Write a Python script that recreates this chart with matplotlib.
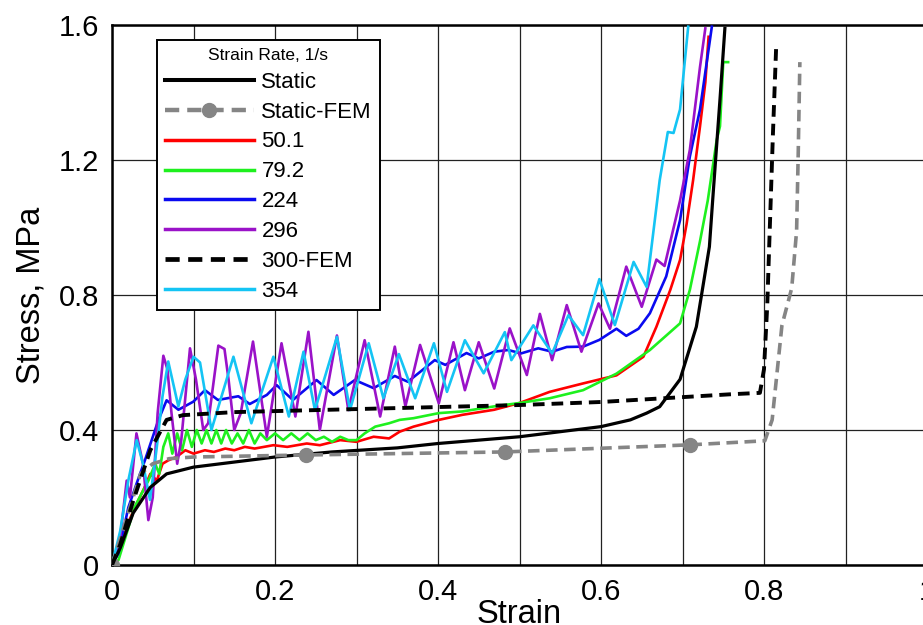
import matplotlib

matplotlib.use("Agg")
import matplotlib.pyplot as plt
from matplotlib.ticker import MultipleLocator

plt.rcParams["font.family"] = ["Liberation Sans", "DejaVu Sans"]

# ── data (strain, stress in MPa) ─────────────────────────────────────────────
static_strain = [0, 0.01, 0.026, 0.047, 0.067, 0.1, 0.15, 0.2, 0.27, 0.35, 0.4,
                 0.5, 0.6, 0.636, 0.656, 0.672, 0.697, 0.717, 0.733, 0.737,
                 0.746, 0.752]
static_stress = [0, 0.05, 0.154, 0.23, 0.27, 0.29, 0.305, 0.32, 0.335, 0.347,
                 0.36, 0.38, 0.41, 0.43, 0.45, 0.469, 0.55, 0.706, 0.943, 1.08,
                 1.38, 1.59]

static_fem_strain = [0, 0.018, 0.035, 0.05, 0.07, 0.1, 0.238, 0.482, 0.709,
                     0.801, 0.81, 0.822, 0.834, 0.84, 0.842, 0.844]
static_fem_stress = [0, 0.14, 0.27, 0.30, 0.315, 0.32, 0.326, 0.335, 0.356,
                     0.368, 0.43, 0.71, 0.82, 0.99, 1.22, 1.49]
static_fem_marks = [0, 6, 7, 8]

r50_strain = [0, 0.010, 0.028, 0.040, 0.047, 0.055, 0.062, 0.069, 0.079, 0.090,
              0.100, 0.114, 0.125, 0.139, 0.150, 0.163, 0.175, 0.198, 0.215,
              0.239, 0.255, 0.280, 0.300, 0.321, 0.340, 0.353, 0.370, 0.401,
              0.430, 0.469, 0.500, 0.537, 0.578, 0.619, 0.652, 0.668, 0.685,
              0.697, 0.705, 0.713, 0.7215, 0.728, 0.732]
r50_stress = [0, 0.07, 0.17, 0.23, 0.27, 0.25, 0.30, 0.31, 0.32, 0.34,
              0.33, 0.34, 0.335, 0.345, 0.34, 0.35, 0.345, 0.355, 0.35,
              0.36, 0.355, 0.37, 0.365, 0.38, 0.375, 0.395, 0.41, 0.43,
              0.445, 0.46, 0.48, 0.513, 0.538, 0.562, 0.617, 0.706, 0.815,
              0.904, 1.01, 1.14, 1.30, 1.43, 1.565]

r79_strain = [0, 0.008, 0.028, 0.045, 0.053, 0.058, 0.063, 0.069, 0.074, 0.080,
              0.086, 0.092, 0.098, 0.104, 0.110, 0.116, 0.122, 0.128, 0.134,
              0.140, 0.147, 0.154, 0.161, 0.168, 0.175, 0.182, 0.190, 0.200,
              0.210, 0.220, 0.230, 0.240, 0.250, 0.260, 0.270, 0.280, 0.290,
              0.300, 0.310, 0.323, 0.340, 0.353, 0.370, 0.401, 0.430, 0.469,
              0.500, 0.537, 0.578, 0.619, 0.660, 0.697, 0.709, 0.7215, 0.731,
              0.742, 0.746, 0.750, 0.756]
r79_stress = [0, 0.015, 0.173, 0.252, 0.30, 0.27, 0.35, 0.39, 0.33, 0.39,
              0.34, 0.40, 0.35, 0.40, 0.36, 0.40, 0.36, 0.40, 0.36,
              0.40, 0.36, 0.39, 0.36, 0.40, 0.36, 0.39, 0.37, 0.39,
              0.37, 0.39, 0.37, 0.39, 0.37, 0.38, 0.365, 0.38, 0.37,
              0.37, 0.39, 0.41, 0.42, 0.43, 0.435, 0.45, 0.455, 0.47,
              0.48, 0.494, 0.518, 0.567, 0.637, 0.716, 0.815, 0.96, 1.08,
              1.26, 1.30, 1.49, 1.49]

r224_strain = [0, 0.008, 0.020, 0.030, 0.0405, 0.057, 0.067, 0.0815, 0.0998,
               0.114, 0.130, 0.155, 0.169, 0.190, 0.202, 0.222, 0.251, 0.272,
               0.298, 0.321, 0.347, 0.363, 0.396, 0.409, 0.435, 0.450, 0.469,
               0.486, 0.502, 0.523, 0.540, 0.558, 0.578, 0.598, 0.619, 0.631,
               0.646, 0.660, 0.680, 0.697, 0.709, 0.7215, 0.736]
r224_stress = [0, 0.035, 0.17, 0.24, 0.311, 0.43, 0.488, 0.46, 0.484,
               0.518, 0.489, 0.50, 0.477, 0.504, 0.533, 0.489, 0.548, 0.504,
               0.548, 0.524, 0.56, 0.543, 0.607, 0.593, 0.628, 0.612, 0.632,
               0.637, 0.627, 0.642, 0.632, 0.646, 0.647, 0.667, 0.70, 0.679,
               0.70, 0.746, 0.855, 1.022, 1.21, 1.35, 1.595]

r296_strain = [0, 0.010, 0.018, 0.022, 0.030, 0.038, 0.0446, 0.050, 0.056,
               0.063, 0.068, 0.073, 0.080, 0.085, 0.0957, 0.103, 0.112, 0.118,
               0.1305, 0.138, 0.143, 0.150, 0.158, 0.173, 0.190, 0.208, 0.225,
               0.241, 0.255, 0.276, 0.290, 0.310, 0.329, 0.347, 0.360, 0.378,
               0.401, 0.419, 0.433, 0.450, 0.469, 0.488, 0.509, 0.525, 0.540,
               0.558, 0.576, 0.597, 0.611, 0.631, 0.650, 0.668, 0.678, 0.697,
               0.709, 0.7215, 0.728]
r296_stress = [0, 0.08, 0.25, 0.20, 0.39, 0.30, 0.133, 0.20, 0.45,
               0.62, 0.58, 0.45, 0.30, 0.37, 0.642, 0.55, 0.40, 0.42,
               0.65, 0.64, 0.55, 0.40, 0.45, 0.662, 0.38, 0.657, 0.44,
               0.691, 0.40, 0.68, 0.459, 0.666, 0.44, 0.647, 0.47, 0.652,
               0.479, 0.66, 0.518, 0.66, 0.523, 0.701, 0.563, 0.744, 0.607,
               0.77, 0.632, 0.775, 0.70, 0.884, 0.765, 0.905, 0.886, 1.08,
               1.23, 1.476, 1.59]

fem300_strain = [0, 0.01, 0.026, 0.047, 0.067, 0.087, 0.15, 0.35, 0.5, 0.6,
                 0.76, 0.795, 0.80, 0.804, 0.807, 0.811, 0.815]
fem300_stress = [0, 0.06, 0.19, 0.34, 0.43, 0.444, 0.453, 0.465, 0.474, 0.483,
                 0.506, 0.51, 0.58, 0.77, 0.99, 1.28, 1.54]

r354_strain = [0, 0.010, 0.020, 0.0303, 0.038, 0.0466, 0.055, 0.062, 0.069,
               0.0814, 0.090, 0.100, 0.108, 0.122, 0.149, 0.171, 0.198, 0.217,
               0.235, 0.249, 0.276, 0.292, 0.315, 0.333, 0.352, 0.372, 0.395,
               0.411, 0.433, 0.456, 0.482, 0.490, 0.517, 0.540, 0.560, 0.578,
               0.598, 0.617, 0.640, 0.656, 0.672, 0.682, 0.689, 0.697, 0.707]
r354_stress = [0, 0.10, 0.25, 0.37, 0.30, 0.193, 0.35, 0.50, 0.603,
               0.47, 0.55, 0.617, 0.60, 0.40, 0.617, 0.42, 0.617, 0.44,
               0.632, 0.459, 0.676, 0.459, 0.657, 0.494, 0.625, 0.494, 0.657,
               0.513, 0.666, 0.568, 0.69, 0.607, 0.71, 0.627, 0.74, 0.681,
               0.847, 0.711, 0.898, 0.824, 1.14, 1.283, 1.28, 1.35, 1.595]

x_ticks = [0, 0.2, 0.4, 0.6, 0.8, 1.0]
x_labels = ["0", "0.2", "0.4", "0.6", "0.8", "1"]
y_ticks = [0, 0.4, 0.8, 1.2, 1.6]
y_labels = ["0", "0.4", "0.8", "1.2", "1.6"]

# ── figure ───────────────────────────────────────────────────────────────────
W, H = 923, 625
fig = plt.figure(figsize=(W / 100, H / 100), dpi=100)
ax = fig.add_axes([112 / W, 60 / H, 815 / W, 540 / H])

ax.plot(static_strain, static_stress, color="black", lw=2.3, label="Static", zorder=5)
ax.plot(static_fem_strain, static_fem_stress, color="#858585", lw=2.6,
        dashes=(3.2, 1.8), marker="o", markersize=10, markevery=static_fem_marks,
        label="Static-FEM", zorder=6)
ax.plot(r50_strain, r50_stress, color="#ff0000", lw=1.9, label="50.1", zorder=3)
ax.plot(r79_strain, r79_stress, color="#1ef01e", lw=1.9, label="79.2", zorder=3)
ax.plot(r224_strain, r224_stress, color="#0a0af0", lw=1.9, label="224", zorder=3)
ax.plot(r296_strain, r296_stress, color="#9a12c8", lw=1.9, label="296", zorder=3)
ax.plot(fem300_strain, fem300_stress, color="black", lw=2.8, dashes=(3.0, 1.8),
        label="300-FEM", zorder=6)
ax.plot(r354_strain, r354_stress, color="#14c4f4", lw=1.9, label="354", zorder=4)

ax.set_xlim(0, 1)
ax.set_ylim(0, 1.6)
ax.set_xticks(x_ticks, x_labels)
ax.set_yticks(y_ticks, y_labels)
ax.xaxis.set_minor_locator(MultipleLocator(0.1))
ax.grid(True, which="both", axis="x", color="#222222", lw=0.9, zorder=0)
ax.grid(True, which="major", axis="y", color="#222222", lw=0.9, zorder=0)
ax.set_axisbelow(True)
ax.tick_params(which="both", length=0, labelsize=21, pad=9)
for side in ("left", "bottom", "top", "right"):
    ax.spines[side].set_linewidth(1.8)

ax.set_xlabel("Strain", fontsize=23.5, labelpad=-5)
ax.set_ylabel("Stress, MPa", fontsize=23.5, labelpad=9)

leg = ax.legend(loc="upper left", bbox_to_anchor=(157 / W, 1 - 40 / H),
                bbox_transform=fig.transFigure, borderaxespad=0,
                title="Strain Rate, 1/s", title_fontsize=12.5, fontsize=16,
                handlelength=4.0, handletextpad=0.35, labelspacing=0.40,
                borderpad=0.35, fancybox=False, framealpha=1, edgecolor="black")
leg.get_frame().set_linewidth(1.4)
for h in leg.get_lines():
    h.set_linewidth(h.get_linewidth() + 0.6)
leg.set_zorder(10)

fig.savefig("out.png", dpi=100, facecolor="white")
